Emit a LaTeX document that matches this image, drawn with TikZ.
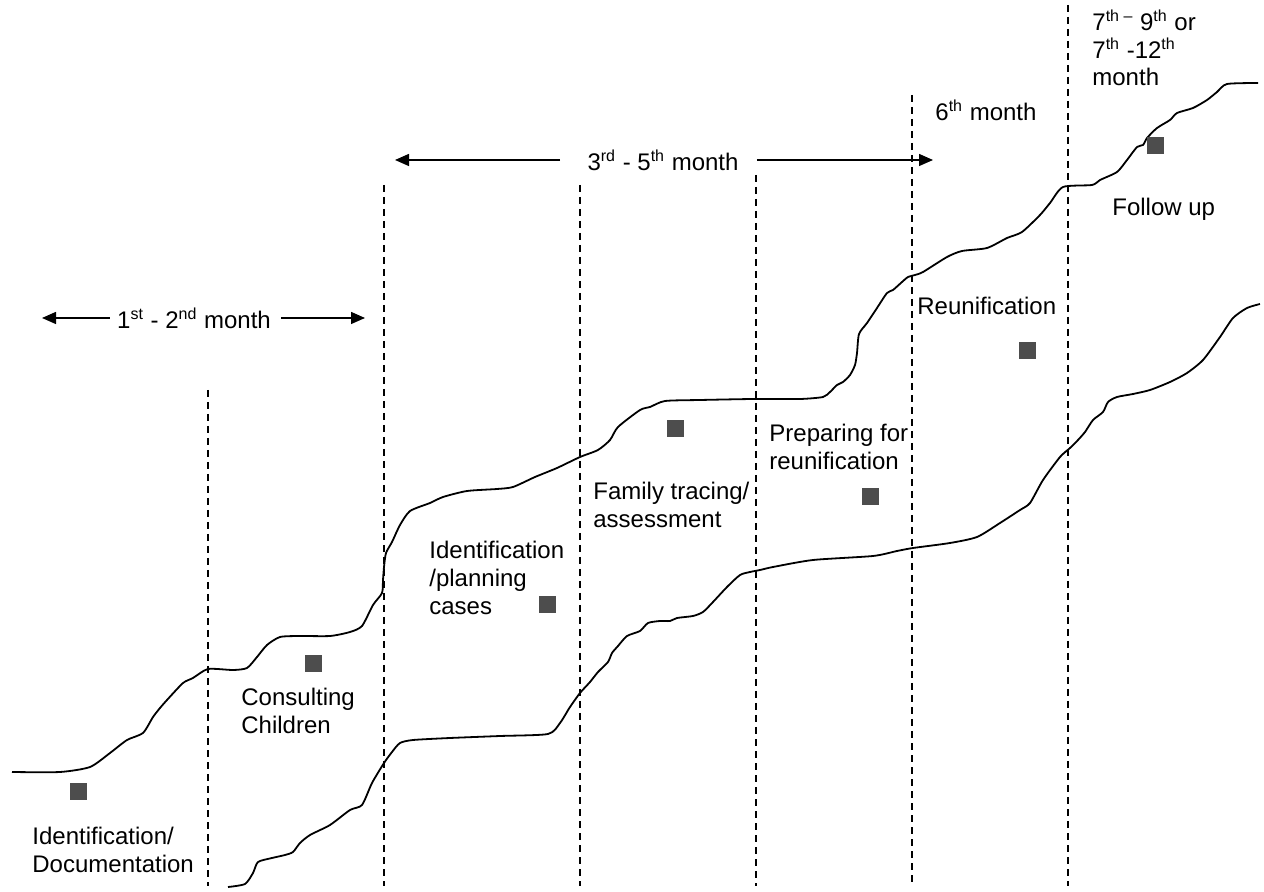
\documentclass[tikz,border=0pt]{standalone}
\usepackage{fontspec}
\setmainfont{Liberation Sans}
\usetikzlibrary{arrows.meta}
\definecolor{sqgray}{HTML}{4D4D4D}
\begin{document}
\begin{tikzpicture}[x=0.5pt,y=-0.5pt,
 lbl/.style={anchor=west,align=left,inner sep=0pt,font=\fontsize{12}{13.8}\selectfont},
 sq/.style={fill=sqgray,minimum size=8.5pt,inner sep=0pt},
 vline/.style={dash pattern=on 3.5pt off 2.5pt,line width=0.65pt},
 curve/.style={line width=0.9pt,line join=round},
 arr/.style={line width=0.7pt,-{Triangle[length=7pt,width=6pt]}}]
\useasboundingbox (0,0) rectangle (1264,892);

% dashed dividers
\foreach \n/\x/\t in {1/208/390,2/384/185,3/580/185,4/756/175,5/912/95,6/1068/5}{
  \coordinate (vt\n) at (\x,\t);
  \coordinate (vb\n) at (\x,886);
  \draw[vline] (vt\n) -- (vb\n);
}

% curves
\draw[curve] plot[smooth,tension=0.4] coordinates {
(12,772) (60,772) (90,767) (110,753) (127,740) (143,733) (153,717) (160,708)
(167,700) (183,683) (193,678) (208,669) (233,670) (247,668) (257,657) (267,645)
(280,637) (300,636) (330,636) (350,632) (362,626) (373,605) (382,593) (383,580)
(384,567) (386,553) (392,542) (400,525) (410,511) (430,503) (443,497) (467,491)
(497,489) (513,487) (535,477) (557,468) (580,457) (598,450) (610,440) (618,427)
(640,410) (650,407) (665,401) (700,400) (753,399) (800,399) (823,397) (830,392)
(837,385) (843,382) (850,375) (855,365) (857,353) (859,334) (867,323) (877,308)
(887,293) (893,290) (902,282) (908,277) (915,275) (923,272) (947,257) (962,251)
(987,248) (1007,238) (1022,232) (1040,215) (1050,203) (1063,187) (1092,185)
(1100,180) (1117,172) (1127,160) (1137,147) (1143,145) (1147,138) (1157,128)
(1170,120) (1177,113) (1193,108) (1207,100) (1217,92) (1227,84) (1258,83)};

\draw[curve] plot[smooth,tension=0.4] coordinates {
(228,887) (245,884) (253,873) (258,862) (272,858) (285,855) (293,852) (300,843)
(310,835) (330,825) (350,810) (362,805) (372,783) (384,763) (392,752) (400,743)
(413,740) (450,738) (500,736) (548,734) (560,723) (570,707) (580,693) (590,682)
(598,672) (608,662) (612,653) (618,646) (627,636) (640,631) (648,623) (660,621)
(670,621) (677,618) (693,616) (703,612) (713,602) (727,587) (740,575) (750,572)
(760,570) (773,567) (813,560) (873,556) (897,551) (913,548) (950,543) (977,537)
(1000,523) (1020,510) (1030,503) (1043,480) (1060,457) (1070,448) (1078,440)
(1085,432) (1093,420) (1103,412) (1108,402) (1117,397) (1133,394) (1150,390)
(1170,382) (1187,373) (1203,360) (1220,337) (1233,318) (1247,308) (1260,304)};

% squares
\node[sq] (s1) at (78,791) {};
\node[sq] (s2) at (313,664) {};
\node[sq] (s3) at (547,605) {};
\node[sq] (s4) at (675,429) {};
\node[sq] (s5) at (870,497) {};
\node[sq] (s6) at (1027,351) {};
\node[sq] (s7) at (1155,146) {};

% labels
\node[lbl] (l1) at (32,850) {Identification/\\Documentation};
\node[lbl] (l2) at (241,711) {Consulting\\Children};
\node[lbl] (l3) at (429,578) {Identification\\/planning\\cases};
\node[lbl] (l4) at (593,505) {Family tracing/\\assessment};
\node[lbl] (l5) at (769,447) {Preparing for\\reunification};
\node[lbl] (l6) at (917,306) {Reunification};
\node[lbl] (l7) at (1112,209) {Follow up};
\node[lbl] (l8) at (935,110) {6\textsuperscript{th} month};
\node[lbl] (l9) at (1092,48) {7\textsuperscript{th –} 9\textsuperscript{th} or\\7\textsuperscript{th} -12\textsuperscript{th}\\month};

% period arrows
\node[lbl,anchor=center] (p1) at (194,318) {1\textsuperscript{st} - 2\textsuperscript{nd} month};
\coordinate (p1l) at (42,318);
\coordinate (p1r) at (365,318);
\draw[arr] ([xshift=-3.5pt]p1.west) -- (p1l);
\draw[arr] ([xshift=5pt]p1.east) -- (p1r);

\node[lbl,anchor=center] (p2) at (663,160) {3\textsuperscript{rd} - 5\textsuperscript{th} month};
\coordinate (p2l) at (395,160);
\coordinate (p2r) at (933,160);
\draw[arr] ([xshift=-13.5pt]p2.west) -- (p2l);
\draw[arr] ([xshift=9pt]p2.east) -- (p2r);
\end{tikzpicture}
\end{document}
